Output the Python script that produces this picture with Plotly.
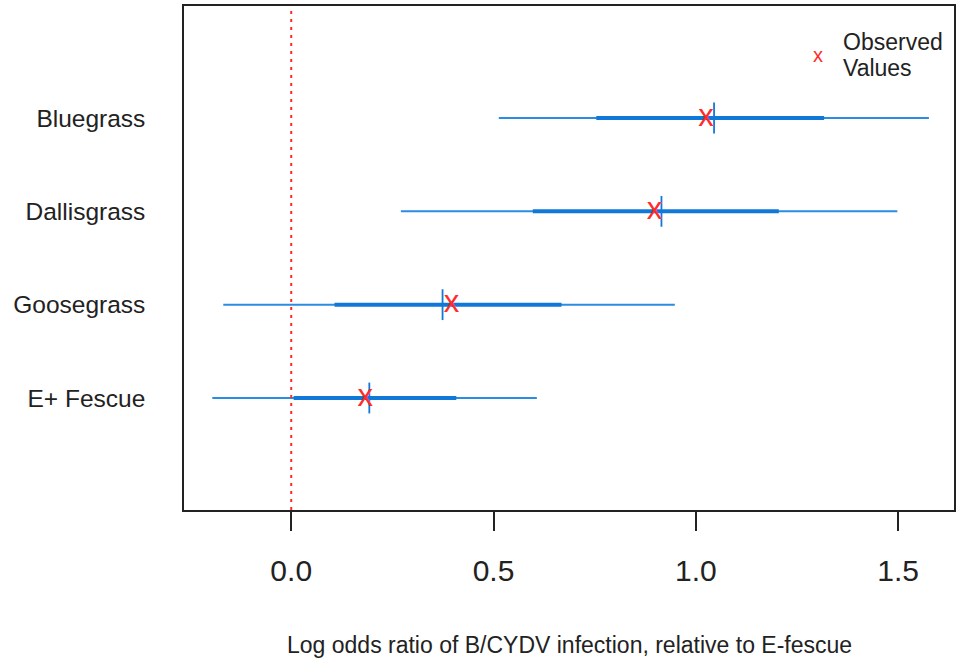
import plotly.graph_objects as go

# Posterior summaries per host grass (log odds ratio vs E- fescue)
hosts = ["E+ Fescue", "Goosegrass", "Dallisgrass", "Bluegrass"]
row_pos = [1, 2, 3, 4]
outer_lo = [-0.195, -0.168, 0.271, 0.513]
outer_hi = [0.607, 0.948, 1.498, 1.576]
inner_lo = [0.006, 0.107, 0.597, 0.754]
inner_hi = [0.408, 0.668, 1.205, 1.317]
median = [0.193, 0.374, 0.915, 1.045]
observed = [0.183, 0.396, 0.898, 1.025]

x_ticks = [0.0, 0.5, 1.0, 1.5]
x_tick_text = ["0.0", "0.5", "1.0", "1.5"]

THIN_BLUE = "#2a8de3"
THICK_BLUE = "#0f78d8"
RED = "#ff2b2b"
FONT = "Liberation Sans, Arial, sans-serif"

fig = go.Figure()

# outer interval (thin) and inner interval (thick)
for lo, hi, y in zip(outer_lo, outer_hi, row_pos):
    fig.add_trace(go.Scatter(x=[lo, hi], y=[y, y], mode="lines",
                             line=dict(color=THIN_BLUE, width=2),
                             showlegend=False, hoverinfo="skip"))
for lo, hi, y in zip(inner_lo, inner_hi, row_pos):
    fig.add_trace(go.Scatter(x=[lo, hi], y=[y, y], mode="lines",
                             line=dict(color=THICK_BLUE, width=4),
                             showlegend=False, hoverinfo="skip"))

# median tick
fig.add_trace(go.Scatter(x=median, y=row_pos, mode="markers",
                         marker=dict(symbol="line-ns", size=22,
                                     line=dict(color=THICK_BLUE, width=1.8)),
                         showlegend=False))

# observed values drawn as "x" characters
fig.add_trace(go.Scatter(x=observed, y=row_pos, mode="text", text=["x"] * len(observed),
                         textposition="middle center",
                         textfont=dict(family=FONT, size=31, color=RED),
                         showlegend=False))

# reference line at zero
fig.add_shape(type="line", x0=0, x1=0, y0=0, y1=1, xref="x", yref="paper",
              line=dict(color=RED, width=2, dash="3px,5px"))

fig.update_layout(
    width=959, height=661,
    margin=dict(l=184, r=3, t=6, b=151),
    paper_bgcolor="white", plot_bgcolor="white",
    font=dict(family=FONT, color="#222222"),
    xaxis=dict(range=[-0.265, 1.638], tickvals=x_ticks, ticktext=x_tick_text,
               ticks="outside", ticklen=19, tickwidth=1.5, tickcolor="#222222",
               tickfont=dict(size=30, color="#222222"), ticklabelstandoff=14,
               showgrid=False, zeroline=False, showline=True, linecolor="#222222",
               linewidth=1.5, mirror=True),
    yaxis=dict(range=[-0.2, 5.2], tickvals=row_pos, ticktext=hosts, ticks="",
               tickfont=dict(size=24.5, color="#222222"), ticklabelstandoff=32,
               showgrid=False, zeroline=False, showline=True, linecolor="#222222",
               linewidth=1.5, mirror=True),
)

# axis title
fig.add_annotation(text="Log odds ratio of B/CYDV infection, relative to E-fescue",
                   xref="paper", yref="paper", x=0.5, y=-0.268, xanchor="center",
                   yanchor="middle", showarrow=False,
                   font=dict(size=23, color="#222222", family=FONT))

# legend
fig.add_annotation(text="x", xref="paper", yref="paper", x=0.8238, y=0.9028,
                   xanchor="center", yanchor="middle", showarrow=False,
                   font=dict(size=20, color=RED, family=FONT))
fig.add_annotation(text="Observed", xref="paper", yref="paper", x=0.8536,
                   y=(510 - 42) / 504, xanchor="left", yanchor="middle", showarrow=False,
                   font=dict(size=23, color="#222222", family=FONT))
fig.add_annotation(text="Values", xref="paper", yref="paper", x=0.8536,
                   y=(510 - 68) / 504, xanchor="left", yanchor="middle", showarrow=False,
                   font=dict(size=23, color="#222222", family=FONT))

fig.write_html("out.html")
